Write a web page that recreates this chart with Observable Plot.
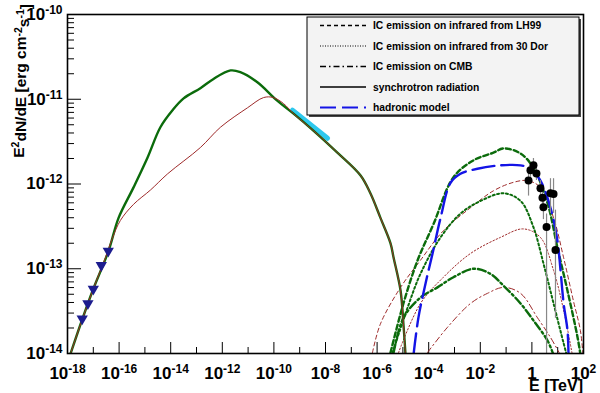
<!DOCTYPE html>
<html><head><meta charset="utf-8">
<script src="https://cdn.jsdelivr.net/npm/d3@7"></script>
<script src="https://cdn.jsdelivr.net/npm/@observablehq/plot@0.6"></script>
<style>body{margin:0;background:#fff}#chart{width:600px;height:393px}</style>
</head><body><div id="chart"></div>
<script>
// ---- data (log10 of E [TeV] and log10 of E^2 dN/dE [erg cm^-2 s^-1]) ----
const synchTotalLogE = [-17.88,-17.42,-16.99,-16.41,-16.02,-15.44,-14.90,-14.40,-13.93,-13.50,-12.85,-12.34,-11.68,-11.30,-10.64,-9.86,-9.24,-8.47,-7.54,-6.64,-6.26,-5.87,-5.48,-5.36,-5.09,-4.98,-4.88];
const synchTotalLogF = [-14.00,-13.59,-13.23,-12.79,-12.40,-12.04,-11.69,-11.33,-11.13,-10.99,-10.87,-10.76,-10.66,-10.68,-10.80,-11.02,-11.17,-11.37,-11.63,-11.90,-12.11,-12.40,-12.70,-12.87,-13.26,-13.65,-14.10];
const synchRedLogE = [-17.88,-17.42,-16.99,-16.53,-16.26,-15.95,-15.44,-14.78,-14.12,-12.85,-12.07,-11.02,-10.40,-10.02,-9.63,-9.24,-8.47,-7.54,-6.64,-6.26,-5.87,-5.48,-5.36,-5.09,-4.98,-4.88];
const synchRedLogF = [-14.00,-13.59,-13.23,-12.87,-12.64,-12.43,-12.24,-12.07,-11.88,-11.57,-11.33,-11.10,-10.98,-10.98,-11.05,-11.17,-11.37,-11.63,-11.90,-12.11,-12.40,-12.70,-12.87,-13.26,-13.65,-14.10];
const xrayLogE = [-9.28,-7.92];
const xrayLogF = [-11.13,-11.46];

const icLh99LogE = [-5.48,-4.98,-4.43,-3.81,-3.04,-2.26,-1.49,-1.10,-0.44,0.06,0.61,0.99,1.38,1.77,1.90];
const icLh99LogF = [-13.99,-13.41,-12.90,-12.47,-11.92,-11.72,-11.63,-11.58,-11.64,-11.81,-12.23,-12.75,-13.26,-13.81,-14.05];
const icLh99RedLogE = [-6.18,-5.87,-5.09,-4.32,-3.43,-2.38,-1.49,-0.71,-0.17,0.33,0.84,1.23,1.61,1.88,1.98];
const icLh99RedLogF = [-13.99,-13.65,-13.22,-12.90,-12.55,-12.28,-12.08,-11.98,-11.96,-12.04,-12.40,-12.87,-13.38,-13.73,-14.02];
const ic30DorLogE = [-5.40,-4.82,-4.32,-3.54,-2.77,-1.99,-1.10,-0.44,0.06,0.45,0.84,1.23,1.38];
const ic30DorLogF = [-13.99,-13.46,-13.06,-12.63,-12.35,-12.20,-12.11,-12.20,-12.51,-12.94,-13.41,-13.88,-14.05];
const ic30DorRedLogE = [-5.17,-4.32,-3.43,-2.38,-1.22,-0.33,0.33,0.84,1.23,1.57];
const ic30DorRedLogF = [-13.99,-13.41,-13.10,-12.82,-12.63,-12.53,-12.63,-13.02,-13.49,-14.02];
const icCmbLogE = [-5.36,-4.98,-4.32,-3.66,-3.04,-2.26,-1.61,-1.10,-0.44,0.06,0.61,0.84];
const icCmbLogF = [-13.99,-13.58,-13.34,-13.22,-13.10,-13.00,-13.06,-13.20,-13.41,-13.61,-13.85,-14.02];
const icCmbRedLogE = [-4.05,-3.27,-2.38,-1.72,-1.10,-0.44,0.22,0.72,1.11];
const icCmbRedLogF = [-13.99,-13.69,-13.41,-13.29,-13.22,-13.29,-13.58,-13.81,-14.02];
const hadronicLogE = [-4.59,-4.40,-4.12,-3.85,-3.54,-3.16,-2.77,-2.11,-1.22,-0.44,-0.05,0.33,0.72,0.99,1.11,1.23,1.38,1.42];
const hadronicLogF = [-14.02,-13.58,-13.17,-12.82,-12.40,-11.99,-11.88,-11.82,-11.78,-11.78,-11.82,-11.96,-12.28,-12.67,-13.02,-13.41,-13.73,-14.02];

const radioLogE = [-17.43,-17.21,-17.00,-16.69,-16.42];
const radioLogF = [-13.59,-13.41,-13.24,-12.96,-12.79];

const hessE = [0.74,0.88,1.15,1.5,2.15,2.57,2.8,3.7,5.25,6.9,8.2];
const hessF = [1.1e-12,1.45e-12,1.66e-12,1.33e-12,8.9e-13,6.9e-13,5.3e-13,3.1e-13,7.8e-13,7.6e-13,1.66e-13];
const hessFLow = [7.2e-13,1.2e-12,1.38e-12,1.1e-12,7.0e-13,5.3e-13,3.8e-13,1e-15,4.5e-13,4.5e-13,2.6e-14];
const hessFHigh = [1.5e-12,1.75e-12,2.0e-12,1.6e-12,1.1e-12,8.8e-13,7.0e-13,4.4e-13,1.15e-12,1.15e-12,4.9e-13];

const xLabelExps = [-18,-16,-14,-12,-10,-8,-6,-4,-2,0,2];
const xMinorExps = [-17,-15,-13,-11,-9,-7,-5,-3,-1,1];
const yLabelExps = [-14,-13,-12,-11,-10];
const yMinorMantissas = [2,3,4,5,6,7,8,9];

const legendLabels = ["IC emission on infrared from LH99","IC emission on infrared from 30 Dor","IC emission on CMB","synchrotron radiation","hadronic model"];

// ---- build ----
const W = 600, H = 393, mL = 67, mR = 17, mT = 14, mB = 40;
const innerW = W - mL - mR, innerH = H - mT - mB;
const pts = (le, lf) => le.map((e, i) => ({E: 10 ** e, F: 10 ** lf[i]}));
const line = (le, lf, o) => Plot.line(pts(le, lf), {x: "E", y: "F", curve: "catmull-rom", clip: true, fill: "none", ...o});

const GREEN = "#0b6b0b", RED = "#9e2a2a", BLUE = "#1414e6";
const xMajor = xLabelExps.map(e => 10 ** e);
const xMinor = xMinorExps.map(e => 10 ** e);
const yMajor = yLabelExps.map(e => 10 ** e);
const yMinor = yLabelExps.slice(0, -1).flatMap(e => yMinorMantissas.map(m => m * 10 ** e));
const hess = hessE.map((e, i) => ({E: e, F: hessF[i], lo: hessFLow[i], hi: hessFHigh[i]}));
const fmt = v => { const e = Math.round(Math.log10(v)); return e === 0 ? "1" : "10^" + e; };

const chart = Plot.plot({
  width: W, height: H, marginLeft: mL, marginRight: mR, marginTop: mT, marginBottom: mB,
  style: {fontFamily: "'Liberation Sans', Arial, sans-serif", fontWeight: "bold", background: "white", color: "black"},
  x: {type: "log", domain: [1e-18, 1e2]},
  y: {type: "log", domain: [1e-14, 1e-10]},
  marks: [
    Plot.axisX(xMajor, {tickSize: 0, tickPadding: 13, fontSize: 17, tickFormat: fmt, label: null}),
    Plot.axisY(yMajor, {tickSize: 0, tickPadding: 5, fontSize: 17, tickFormat: fmt, label: null}),
    Plot.tickX(xMajor, {x: d => d, insetTop: innerH - 11, stroke: "black"}),
    Plot.tickX(xMinor, {x: d => d, insetTop: innerH - 6, stroke: "black"}),
    Plot.tickY(yMajor, {y: d => d, insetRight: innerW - 14, stroke: "black"}),
    Plot.tickY(yMinor, {y: d => d, insetRight: innerW - 7, stroke: "black"}),
    // IC models
    line(icLh99RedLogE, icLh99RedLogF, {stroke: RED, strokeWidth: 1, strokeDasharray: "4,3"}),
    line(ic30DorRedLogE, ic30DorRedLogF, {stroke: RED, strokeWidth: 1, strokeDasharray: "1.5,2"}),
    line(icCmbRedLogE, icCmbRedLogF, {stroke: RED, strokeWidth: 1, strokeDasharray: "6,3,1.5,3"}),
    line(icLh99LogE, icLh99LogF, {stroke: GREEN, strokeWidth: 2.4, strokeDasharray: "5,3"}),
    line(ic30DorLogE, ic30DorLogF, {stroke: GREEN, strokeWidth: 2, strokeDasharray: "2,2.5"}),
    line(icCmbLogE, icCmbLogF, {stroke: GREEN, strokeWidth: 2.4, strokeDasharray: "8,3,2,3"}),
    // synchrotron
    line(xrayLogE, xrayLogF, {stroke: "#2ec8ee", strokeWidth: 5, curve: "linear"}),
    line(synchTotalLogE, synchTotalLogF, {stroke: GREEN, strokeWidth: 2.4}),
    line(synchRedLogE, synchRedLogF, {stroke: RED, strokeWidth: 1}),
    // hadronic
    line(hadronicLogE, hadronicLogF, {stroke: BLUE, strokeWidth: 2.4, strokeDasharray: "22,7"}),
    // data
    Plot.dot(pts(radioLogE, radioLogF), {x: "E", y: "F", symbol: "triangle", rotate: 180, r: 4.2, fill: "#1c1c8e", stroke: "none"}),
    Plot.ruleX(hess, {x: "E", y1: "lo", y2: "hi", stroke: "#888", strokeWidth: 1.2, clip: true}),
    Plot.link(hess, {x1: d => d.E / 1.03, x2: d => d.E * 1.03, y1: "hi", y2: "hi", stroke: "#888", strokeWidth: 1.2}),
    Plot.dot(hess, {x: "E", y: "F", r: 4, fill: "black", stroke: "none"}),
    Plot.frame({stroke: "black", strokeWidth: 1.6})
  ]
});
document.getElementById("chart").appendChild(chart);

// superscript tick labels
const svg = d3.select(chart);
svg.selectAll('g[aria-label="x-axis tick label"] text, g[aria-label="y-axis tick label"] text').each(function () {
  const t = this.textContent;
  if (!t.includes("^")) return;
  const [b, ex] = t.split("^");
  const s = d3.select(this);
  s.text(b);
  s.append("tspan").attr("dy", "-0.5em").attr("font-size", "12px").text(ex);
});

// axis titles
const yt = svg.append("text").attr("transform", "translate(24,4) rotate(-90)").attr("text-anchor", "end")
  .attr("font-size", 15.5).attr("font-weight", "bold").attr("fill", "black");
yt.append("tspan").text("E");
yt.append("tspan").attr("dy", "-0.45em").attr("font-size", 10.5).text("2");
yt.append("tspan").attr("dy", "0.45em").text("dN/dE [erg cm");
yt.append("tspan").attr("dy", "-0.45em").attr("font-size", 10.5).text("-2");
yt.append("tspan").attr("dy", "0.45em").text("s");
yt.append("tspan").attr("dy", "-0.45em").attr("font-size", 10.5).text("-1");
yt.append("tspan").attr("dy", "0.45em").text("]");
svg.append("text").attr("x", W - mR).attr("y", 391).attr("text-anchor", "end").attr("font-size", 16)
  .attr("font-weight", "bold").attr("fill", "black").text("E [TeV]");

// legend
const lx = 307, ly = 17, lw = 272, lh = 98;
const lg = svg.append("g").attr("text-anchor", "start");
lg.append("rect").attr("x", lx + 2).attr("y", ly + 2).attr("width", lw).attr("height", lh).attr("fill", "#444");
lg.append("rect").attr("x", lx).attr("y", ly).attr("width", lw).attr("height", lh).attr("fill", "#f3f3f3").attr("stroke", "black").attr("stroke-width", 1);
const legendStyles = [
  {stroke: "black", w: 1.6, dash: "4,3"},
  {stroke: "black", w: 1.2, dash: "1,1.5"},
  {stroke: "black", w: 1.6, dash: "6,3,1.5,3"},
  {stroke: "black", w: 1.6, dash: null},
  {stroke: BLUE, w: 2.2, dash: "16,6"}
];
legendLabels.forEach((lab, i) => {
  const yy = ly + 8.5 + i * 20.5;
  const st = legendStyles[i];
  const l = lg.append("line").attr("x1", 320).attr("x2", 366).attr("y1", yy).attr("y2", yy)
    .attr("stroke", st.stroke).attr("stroke-width", st.w);
  if (st.dash) l.attr("stroke-dasharray", st.dash);
  lg.append("text").attr("x", 373).attr("y", yy).attr("dy", "0.35em").attr("text-anchor", "start").attr("font-size", 10.3)
    .attr("font-weight", "bold").attr("fill", "black").text(lab);
});
</script>
</body></html>
